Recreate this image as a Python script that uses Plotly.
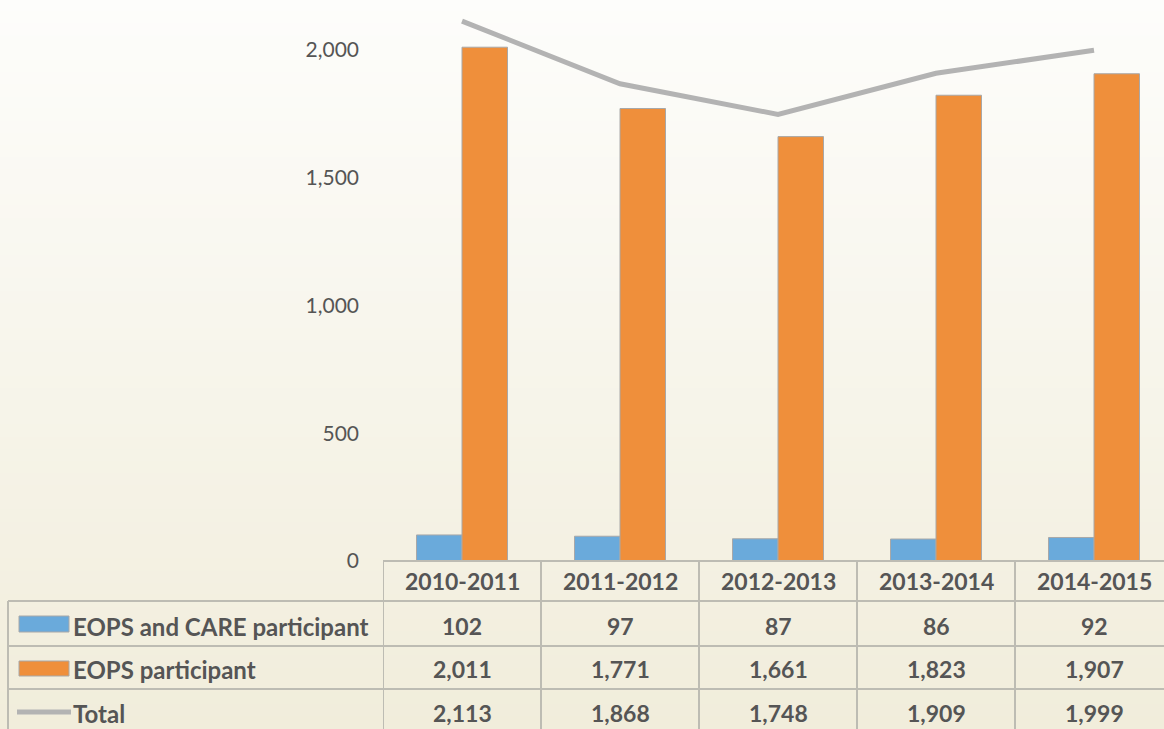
import plotly.graph_objects as go

# data
years = ["2010-2011", "2011-2012", "2012-2013", "2013-2014", "2014-2015"]
eops_care = [102, 97, 87, 86, 92]
eops = [2011, 1771, 1661, 1823, 1907]
total = [2113, 1868, 1748, 1909, 1999]
series_names = ["EOPS and CARE participant", "EOPS participant", "Total"]
y_ticks = [0, 500, 1000, 1500, 2000]

BLUE = "#6aaadb"
ORANGE = "#ef8f3b"
GREY = "#b3b3b3"
TEXT = "#555555"
GRID = "#bdbcb3"
FONT = "Lato"

W, H = 1164, 729
x0_px = 383
y0_px = 561
row_px = [561, 601, 646, 689, 733]


def py(px):
    return 1 - px / H


fig = go.Figure()
fig.add_bar(x=years, y=eops_care, name=series_names[0], marker=dict(color=BLUE, line=dict(color="#a8a8a8", width=1)))
fig.add_bar(x=years, y=eops, name=series_names[1], marker=dict(color=ORANGE, line=dict(color="#a8a8a8", width=1)))
fig.add_scatter(x=years, y=total, name=series_names[2], mode="lines", line=dict(color=GREY, width=5))

shapes = []
# background gradient (white top -> beige bottom)
top = (253, 253, 251)
bot = (241, 237, 219)
n = 60
for i in range(n):
    t = i / (n - 1)
    c = tuple(round(top[k] + (bot[k] - top[k]) * t) for k in range(3))
    shapes.append(dict(type="rect", xref="paper", yref="paper", x0=0, x1=1,
                       y0=py(H * (i + 1) / n), y1=py(H * i / n) + 0.001,
                       fillcolor="rgb(%d,%d,%d)" % c, line_width=0, layer="below"))

# table grid
shapes.append(dict(type="line", xref="paper", yref="paper", x0=x0_px / W, x1=1,
                   y0=py(row_px[0]), y1=py(row_px[0]), line=dict(color=GRID, width=2)))
for r in row_px[1:4]:
    shapes.append(dict(type="line", xref="paper", yref="paper", x0=8 / W, x1=1,
                       y0=py(r), y1=py(r), line=dict(color=GRID, width=2)))
shapes.append(dict(type="line", xref="paper", yref="paper", x0=8 / W, x1=8 / W,
                   y0=py(row_px[1]), y1=0, line=dict(color=GRID, width=2)))
for i in range(len(years)):
    shapes.append(dict(type="line", xref="x", yref="paper", x0=i - 0.5, x1=i - 0.5,
                       y0=py(row_px[0]), y1=0, line=dict(color=GRID, width=2)))

# legend keys inside the table
shapes.append(dict(type="rect", xref="paper", yref="paper", x0=19 / W, x1=69 / W,
                   y0=py(632), y1=py(616), fillcolor=BLUE, line=dict(color="#a8a8a8", width=1)))
shapes.append(dict(type="rect", xref="paper", yref="paper", x0=19 / W, x1=69 / W,
                   y0=py(676), y1=py(661), fillcolor=ORANGE, line=dict(color="#a8a8a8", width=1)))
shapes.append(dict(type="line", xref="paper", yref="paper", x0=17 / W, x1=71 / W,
                   y0=py(712), y1=py(712), line=dict(color=GREY, width=5)))

annotations = []
cell_font = dict(family=FONT, size=23, color=TEXT, weight="bold")
label_font = dict(family=FONT, size=24, color=TEXT, weight="bold")
row_centers = [581, 626, 669, 713]
for i, yr in enumerate(years):
    annotations.append(dict(x=yr, y=py(row_centers[0]), xref="x", yref="paper", text=yr,
                            showarrow=False, font=cell_font, xanchor="center", yanchor="middle"))
    for r, vals in enumerate([eops_care, eops, total]):
        annotations.append(dict(x=yr, y=py(row_centers[r + 1]), xref="x", yref="paper",
                                text=f"{vals[i]:,}", showarrow=False, font=cell_font,
                                xanchor="center", yanchor="middle"))
for r, name in enumerate(series_names):
    annotations.append(dict(x=71 / W, y=py(row_centers[r + 1]), xref="paper", yref="paper",
                            text=name, showarrow=False, font=label_font,
                            xanchor="left", yanchor="middle"))

fig.update_layout(
    width=W, height=H,
    margin=dict(l=0, r=0, t=0, b=0),
    paper_bgcolor="rgb(241,237,219)",
    plot_bgcolor="rgba(0,0,0,0)",
    barmode="group", bargap=0.424, bargroupgap=0,
    showlegend=False,
    shapes=shapes,
    annotations=annotations,
    xaxis=dict(domain=[x0_px / W, 1], range=[-0.5, 4.443], showticklabels=False, automargin=False,
               showgrid=False, zeroline=False, showline=False),
    yaxis=dict(domain=[py(y0_px), 1], range=[0, y0_px / 0.2555], tickvals=y_ticks, automargin=False,
               tickformat=",", showgrid=False, zeroline=False, showline=False,
               ticklabelstandoff=23, tickfont=dict(family=FONT, size=21, color=TEXT)),
)

fig.write_html("out.html", config={"responsive": False, "displayModeBar": False},
               post_script="document.body.style.margin='0';document.documentElement.style.overflow='hidden';")
